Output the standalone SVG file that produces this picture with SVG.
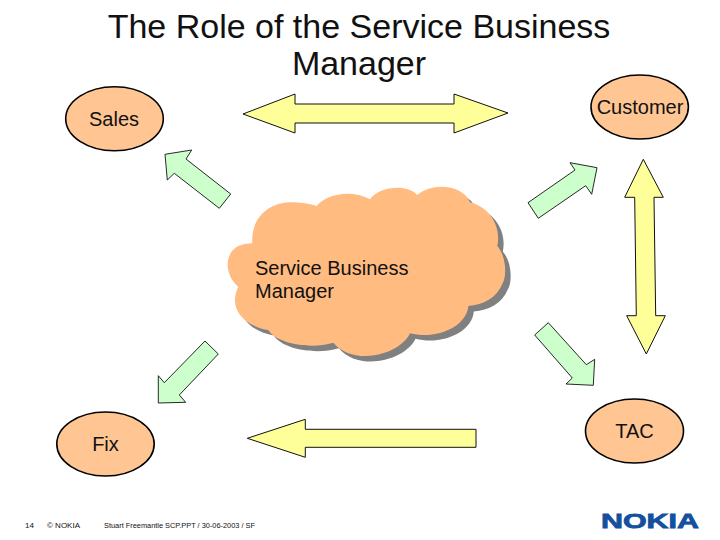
<svg xmlns="http://www.w3.org/2000/svg" xmlns:xlink="http://www.w3.org/1999/xlink" width="720" height="540" viewBox="0 0 720 540">
<style>
text{font-family:"Liberation Sans",Arial,sans-serif;fill:#111}
.oval{fill:#ffc593;stroke:#000;stroke-width:1.6}
.lbl{font-size:20px;text-anchor:middle}
.title{font-size:34px;text-anchor:middle;fill:#111}
.green{fill:#ccffcc;stroke:#111;stroke-width:.9;stroke-linejoin:miter}
.yellow{fill:#ffff99;stroke:#111;stroke-width:1;stroke-linejoin:miter}
.foot{font-size:8px}
</style>
<defs>
<path id="cloud" transform="translate(210 170) scale(.3333)" d="M127 220C122 150 170 95 250 97C280 98 300 102 320 108C345 75 420 55 480 88C505 50 590 40 622 75C670 35 760 45 780 97C835 110 875 165 862 228C890 260 890 320 878 340C860 385 820 405 775 408C770 470 680 510 600 490C570 555 430 590 370 518C300 540 200 520 175 480C110 470 50 420 85 350C45 320 40 250 85 228C100 222 115 220 127 220Z"/>
</defs>
<rect width="720" height="540" fill="#fff"/>
<g id="title">
<text class="title" x="359" y="38">The Role of the Service Business</text>
<text class="title" x="359" y="75">Manager</text>
</g>
<g id="connectors">
<polygon class="yellow" points="243,114 295,94 295,104 454,104 454,94 508,113 454,133 454,123 295,123 295,133"/>
<polygon class="yellow" points="643.3,159.3 663.3,197.3 654,197.3 655.7,315.7 665.3,315.7 646.3,354 626.7,315.7 636.3,315.7 634.7,197.3 624.7,197.3"/>
<polygon class="yellow" points="247.3,438.3 305.3,419.3 305.3,429.3 476,429.3 476,447.3 305.3,447.3 305.3,457.3"/>
<polygon class="green" points="165,154.3 191.7,150 186,159 230.7,194 219.3,208.3 174.3,173.3 167.3,180"/>
<polygon class="green" points="597,167.7 570,162.7 575,170 528,202.7 538.3,218.3 585.7,185.7 591.7,194.3"/>
<polygon class="green" points="593.3,385.3 566,384 572.3,378 534.7,335 548.3,322.7 586.3,364.7 594.7,359.3"/>
<polygon class="green" points="158.3,403 185.7,402.3 179.3,395 218.3,354 205,341 164.3,382.7 158.3,375.7"/>
</g>
<g id="node-sales">
<ellipse class="oval" cx="114.5" cy="118.8" rx="48.8" ry="32"/>
<text class="lbl" x="114" y="125.5">Sales</text>
</g>
<g id="node-customer">
<ellipse class="oval" cx="639.7" cy="107" rx="48.7" ry="32"/>
<text class="lbl" x="640" y="113.5">Customer</text>
</g>
<g id="node-tac">
<ellipse class="oval" cx="634.5" cy="431" rx="49" ry="32"/>
<text class="lbl" x="634.5" y="437.5">TAC</text>
</g>
<g id="node-fix">
<ellipse class="oval" cx="105.5" cy="444" rx="48.7" ry="32"/>
<text class="lbl" x="105.5" y="450.5">Fix</text>
</g>
<g id="node-service-business-manager">
<use xlink:href="#cloud" href="#cloud" transform="translate(5.5 5.5)" fill="#808080"/>
<use xlink:href="#cloud" href="#cloud" fill="#ffbb80"/>
<text x="255" y="274.5" font-size="20px">Service Business</text>
<text x="255" y="297.5" font-size="20px">Manager</text>
</g>
<g id="footer">
<text class="foot" x="25" y="528">14</text>
<text class="foot" x="47" y="528">© NOKIA</text>
<text class="foot" x="104" y="528" textLength="151" lengthAdjust="spacingAndGlyphs">Stuart Freemantle SCP.PPT / 30-06-2003 / SF</text>
<text x="601" y="527.5" font-size="21px" font-weight="bold" textLength="98" lengthAdjust="spacingAndGlyphs" style="fill:#14509e;stroke:#14509e;stroke-width:.8">NOKIA</text>
</g>
</svg>
